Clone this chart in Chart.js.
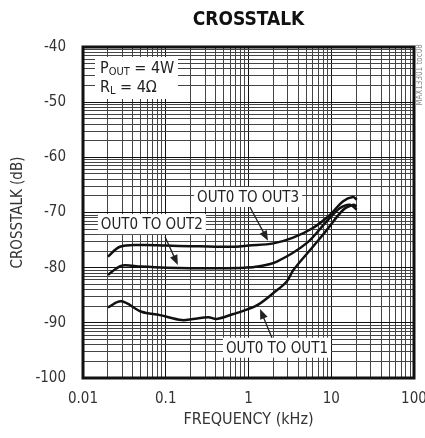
<!DOCTYPE html>
<html>
<head>
<meta charset="utf-8">
<script src="https://cdn.jsdelivr.net/npm/chart.js@4.4.1/dist/chart.umd.min.js"></script>
<style>
  html, body { margin: 0; padding: 0; background: #fff; }
  canvas { display: block; }
</style>
</head>
<body>
<canvas id="xtalk" width="425" height="438"></canvas>
<script>
const FONT = '"Liberation Sans Narrow", "DejaVu Sans Condensed", "Arial Narrow", sans-serif';

// axis decades / labelled ticks
const xTicks = [0.01, 0.1, 1, 10, 100];
const yTicks = [-100, -90, -80, -70, -60, -50, -40];

// OUT0 TO OUT1
const freqOut1 = [0.02, 0.029, 0.051, 0.085, 0.156, 0.215, 0.327, 0.413, 0.655, 0.95, 1.31, 2.0, 2.9, 3.5, 6.0, 8.8, 14, 18.6, 20.3];
const dbOut1 = [-87.2, -86.1, -88.0, -88.6, -89.5, -89.3, -89.0, -89.3, -88.4, -87.6, -86.7, -84.6, -82.5, -80.4, -76.2, -73.2, -69.5, -68.6, -68.9];

// OUT0 TO OUT2
const freqOut2 = [0.02, 0.025, 0.03, 0.05, 0.1, 0.2, 0.4, 0.9, 1.3, 2.2, 5, 8.8, 12.8, 16.9, 20.3];
const dbOut2 = [-81.3, -80.2, -79.6, -79.8, -80, -80.1, -80.1, -80, -79.8, -78.9, -75.6, -71.6, -69.2, -68.6, -69.5];

// OUT0 TO OUT3
const freqOut3 = [0.02, 0.028, 0.05, 0.1, 0.2, 0.4, 0.7, 1, 2, 3.4, 6, 9.7, 13.8, 18.3, 20.4];
const dbOut3 = [-78, -76.2, -75.9, -76, -76.1, -76.2, -76.2, -76, -75.6, -74.6, -72.8, -70.4, -68, -67.2, -67.7];

// callout labels (text, label centre, arrow tail, arrow tip) in kHz / dB
const notes = [
  { text: 'OUT0 TO OUT3', at: [0.99, -67.2], tail: [1.04, -69.0], tip: [1.72, -75.1] },
  { text: 'OUT0 TO OUT2', at: [0.068, -72.1], tail: [0.098, -74.4], tip: [0.14, -79.5] },
  { text: 'OUT0 TO OUT1', at: [2.21, -94.5], tail: [1.92, -92.7], tip: [1.38, -87.5] }
];

// log-paper grid: 1..9 per decade on x, and log spacing inside every 10 dB band on y
const xGrid = [];
xTicks.slice(0, -1).forEach(d => { for (let k = 1; k < 10; k++) xGrid.push(d * k); });
xGrid.push(xTicks[xTicks.length - 1]);
const yGrid = [];
yTicks.slice(0, -1).forEach(b => { for (let k = 1; k < 10; k++) yGrid.push(b + 10 * Math.log10(k)); });
yGrid.push(yTicks[yTicks.length - 1]);

const isTick = (list, v) => list.find(t => Math.abs(t - v) < 1e-9 * Math.max(1, Math.abs(t)));

const mk = (fr, db) => ({
  data: fr.map((f, i) => ({ x: f, y: db[i] })),
  showLine: true,
  borderColor: '#111',
  borderWidth: 2.5,
  pointRadius: 0,
  tension: 0.35
});

function arrow(ctx, x1, y1, x2, y2) {
  const ang = Math.atan2(y2 - y1, x2 - x1);
  const len = 10, w = 4;
  ctx.beginPath();
  ctx.moveTo(x1, y1);
  ctx.lineTo(x2 - Math.cos(ang) * len * 0.8, y2 - Math.sin(ang) * len * 0.8);
  ctx.lineWidth = 1.3;
  ctx.stroke();
  ctx.beginPath();
  ctx.moveTo(x2, y2);
  ctx.lineTo(x2 - Math.cos(ang) * len + Math.sin(ang) * w, y2 - Math.sin(ang) * len - Math.cos(ang) * w);
  ctx.lineTo(x2 - Math.cos(ang) * len - Math.sin(ang) * w, y2 - Math.sin(ang) * len + Math.cos(ang) * w);
  ctx.closePath();
  ctx.fill();
}

function subText(ctx, x, y, parts) {
  parts.forEach(([t, size, dy]) => {
    ctx.font = size + 'px ' + FONT;
    ctx.fillText(t, x, y + dy);
    x += ctx.measureText(t).width;
  });
}

const decor = {
  id: 'decor',
  afterDraw(chart) {
    const { ctx, chartArea: a, scales: { x, y } } = chart;
    ctx.save();

    ctx.strokeStyle = '#111';
    ctx.lineWidth = 3;
    ctx.strokeRect(a.left, a.top, a.right - a.left, a.bottom - a.top);

    ctx.fillStyle = '#111';
    ctx.font = 'bold 19px ' + FONT;
    ctx.textAlign = 'center';
    ctx.textBaseline = 'middle';
    ctx.fillText('CROSSTALK', (a.left + a.right) / 2, 20);

    // callouts
    ctx.font = '15px ' + FONT;
    notes.forEach(n => {
      const cx = x.getPixelForValue(n.at[0]), cy = y.getPixelForValue(n.at[1]);
      const w = ctx.measureText(n.text).width + 6;
      ctx.fillStyle = '#fff';
      ctx.fillRect(cx - w / 2, cy - 10, w, 20);
      ctx.fillStyle = '#222';
      ctx.strokeStyle = '#222';
      ctx.fillText(n.text, cx, cy + 1);
      arrow(ctx, x.getPixelForValue(n.tail[0]), y.getPixelForValue(n.tail[1]),
        x.getPixelForValue(n.tip[0]), y.getPixelForValue(n.tip[1]));
    });

    // conditions box
    const bx = a.left + 12, by = a.top + 10;
    ctx.fillStyle = '#fff';
    ctx.fillRect(bx, by, 83, 42);
    ctx.fillStyle = '#222';
    ctx.textAlign = 'left';
    ctx.textBaseline = 'alphabetic';
    subText(ctx, bx + 5, by + 16, [['P', 16, 0], ['OUT', 11, 2], [' = 4W', 16, 0]]);
    subText(ctx, bx + 5, by + 35, [['R', 16, 0], ['L', 11, 2], [' = 4\u03A9', 16, 0]]);

    // figure id
    ctx.translate(420, 75);
    ctx.rotate(-Math.PI / 2);
    ctx.font = '8px ' + FONT;
    ctx.fillStyle = '#888';
    ctx.textAlign = 'center';
    ctx.textBaseline = 'middle';
    ctx.fillText('MAX13301 toc08', 0, 0);

    ctx.restore();
  }
};

new Chart(document.getElementById('xtalk'), {
  type: 'scatter',
  data: {
    datasets: [mk(freqOut1, dbOut1), mk(freqOut2, dbOut2), mk(freqOut3, dbOut3)]
  },
  options: {
    responsive: false,
    animation: false,
    devicePixelRatio: 1,
    layout: { padding: { left: 0, right: 11, top: 47, bottom: 0 } },
    plugins: { legend: { display: false }, tooltip: { enabled: false } },
    scales: {
      x: {
        type: 'logarithmic',
        min: 0.01,
        max: 100,
        afterBuildTicks: s => { s.ticks = xGrid.map(v => ({ value: v })); },
        afterFit: s => { s.height = 60; s.paddingLeft = 0; s.paddingRight = 0; },
        grid: {
          drawTicks: false,
          color: c => isTick(xTicks, c.tick.value) !== undefined ? '#111' : '#444',
          lineWidth: 1
        },
        border: { display: false },
        ticks: {
          autoSkip: false,
          maxRotation: 0,
          padding: 12,
          color: '#333',
          font: { family: FONT, size: 15 },
          callback: v => { const t = isTick(xTicks, v); return t !== undefined ? String(t) : ''; }
        },
        title: {
          display: true,
          text: 'FREQUENCY (kHz)',
          color: '#333',
          font: { family: FONT, size: 16 },
          padding: { top: 0, bottom: 9 }
        }
      },
      y: {
        type: 'linear',
        min: -100,
        max: -40,
        afterBuildTicks: s => { s.ticks = yGrid.map(v => ({ value: v })); },
        afterFit: s => { s.width = 83; s.paddingTop = 0; s.paddingBottom = 0; },
        grid: {
          drawTicks: false,
          color: c => isTick(yTicks, c.tick.value) !== undefined ? '#111' : '#444',
          lineWidth: 1
        },
        border: { display: false },
        ticks: {
          autoSkip: false,
          padding: 17,
          color: '#333',
          font: { family: FONT, size: 15 },
          callback: v => { const t = isTick(yTicks, v); return t !== undefined ? String(t) : ''; }
        },
        title: {
          display: true,
          text: 'CROSSTALK (dB)',
          color: '#333',
          font: { family: FONT, size: 15 },
          padding: { top: 9, bottom: 0 }
        }
      }
    }
  },
  plugins: [decor]
});
</script>
</body>
</html>
